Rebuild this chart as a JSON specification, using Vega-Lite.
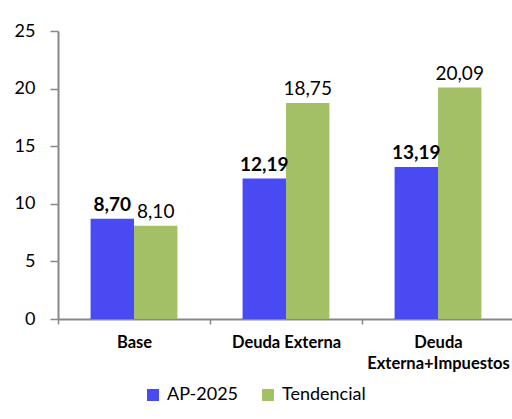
{
  "$schema": "https://vega.github.io/schema/vega-lite/v6.json",
  "width": 456,
  "height": 288,
  "autosize": "none",
  "padding": {"left": 58, "top": 31, "right": 0, "bottom": 100},
  "config": {
    "font": "Lato",
    "view": {"stroke": null},
    "locale": {"number": {"decimal": ",", "thousands": ".", "grouping": [3], "currency": ["", ""]}}
  },
  "data": {
    "values": [
      {"cat": "Base", "serie": "AP-2025", "valor": 8.70},
      {"cat": "Base", "serie": "Tendencial", "valor": 8.10},
      {"cat": "Deuda Externa", "serie": "AP-2025", "valor": 12.19},
      {"cat": "Deuda Externa", "serie": "Tendencial", "valor": 18.75},
      {"cat": "Deuda Externa+Impuestos", "serie": "AP-2025", "valor": 13.19},
      {"cat": "Deuda Externa+Impuestos", "serie": "Tendencial", "valor": 20.09}
    ]
  },
  "encoding": {
    "x": {
      "field": "cat", "type": "nominal",
      "sort": ["Base", "Deuda Externa", "Deuda Externa+Impuestos"],
      "scale": {"paddingInner": 0, "paddingOuter": 0},
      "axis": {
        "title": null, "labelAngle": 0, "tickBand": "extent",
        "labelFont": "Lato", "labelFontWeight": "bold", "labelFontSize": 16.5, "labelColor": "#000",
        "labelPadding": 10, "labelLineHeight": 21,
        "domainColor": "#888", "domainWidth": 2, "tickColor": "#888", "tickWidth": 1.5, "tickSize": 5,
        "labelExpr": "datum.value == 'Deuda Externa+Impuestos' ? ['Deuda', 'Externa+Impuestos'] : datum.value"
      }
    },
    "xOffset": {"field": "serie", "type": "nominal", "scale": {"paddingInner": 0, "paddingOuter": 0.75}},
    "y": {
      "field": "valor", "type": "quantitative",
      "scale": {"domain": [0, 25], "nice": false},
      "axis": {
        "title": null, "grid": false, "values": [0, 5, 10, 15, 20, 25],
        "labelFontSize": 18, "labelColor": "#000", "labelPadding": 15,
        "domainColor": "#888", "domainWidth": 2, "tickColor": "#888", "tickWidth": 1.5, "tickSize": 8
      }
    },
    "color": {
      "field": "serie", "type": "nominal",
      "scale": {"domain": ["AP-2025", "Tendencial"], "range": ["#4a4af2", "#a3c066"]},
      "legend": {
        "title": null, "orient": "none", "direction": "horizontal",
        "legendX": 86, "legendY": 355,
        "labelFontSize": 18, "labelColor": "#000", "symbolType": "square", "symbolSize": 144,
        "symbolStrokeWidth": 0, "columnPadding": 20, "labelOffset": 5
      }
    }
  },
  "layer": [
    {"mark": {"type": "bar", "opacity": 1}},
    {
      "transform": [{"filter": "datum.serie == 'AP-2025'"}],
      "mark": {"type": "text", "baseline": "bottom", "dy": -4, "fontSize": 19, "fontWeight": "bold", "color": "#000"},
      "encoding": {"text": {"field": "valor", "type": "quantitative", "format": ".2f"}, "color": {"value": "#000"}}
    },
    {
      "transform": [{"filter": "datum.serie == 'Tendencial'"}],
      "mark": {"type": "text", "baseline": "bottom", "dy": -4, "fontSize": 19, "color": "#000"},
      "encoding": {"text": {"field": "valor", "type": "quantitative", "format": ".2f"}, "color": {"value": "#000"}}
    }
  ]
}
